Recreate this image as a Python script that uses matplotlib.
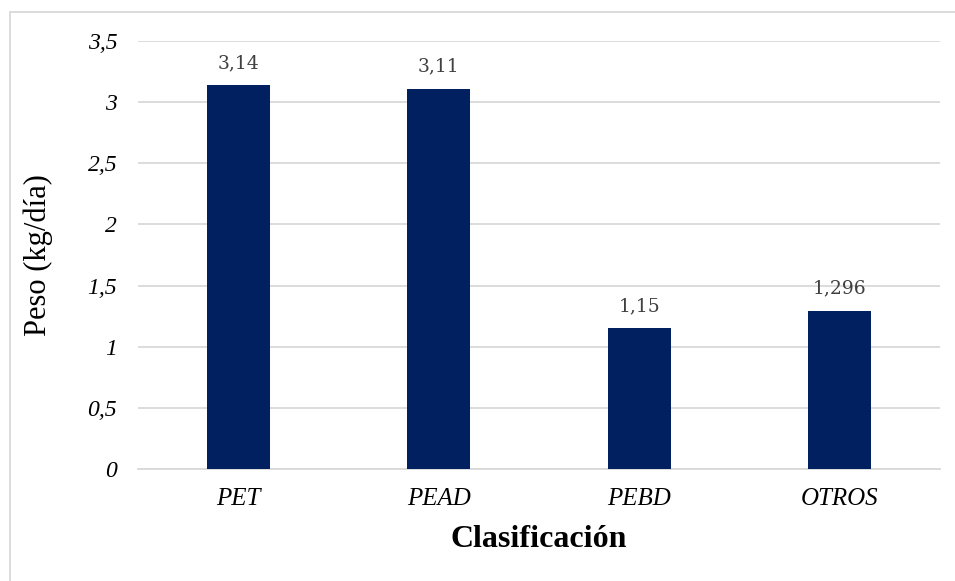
import matplotlib
matplotlib.use('Agg')
import matplotlib.pyplot as plt
from matplotlib.patches import Rectangle

# Weight of each plastic class (kg per day)
categories = ['PET', 'PEAD', 'PEBD', 'OTROS']
peso = [3.14, 3.11, 1.15, 1.296]
value_labels = ['3,14', '3,11', '1,15', '1,296']
yticks = [0, 0.5, 1, 1.5, 2, 2.5, 3, 3.5]
ytick_labels = ['0', '0,5', '1', '1,5', '2', '2,5', '3', '3,5']

W, H = 955, 581
fig = plt.figure(figsize=(W / 100, H / 100), dpi=100)

# thin grey frame round the chart area
fig.patches.append(Rectangle((9.5 / W, -0.1), 1.2, 1.1 - 12.5 / H,
                             transform=fig.transFigure, fill=False,
                             edgecolor='#D9D9D9', linewidth=1.3))

ax = fig.add_axes([138 / W, 1 - 469 / H, (940 - 138) / W, (469 - 41) / H])

x = range(len(categories))
ax.bar(x, peso, width=0.315, color='#002060', zorder=3)

for xi, v, lab in zip(x, peso, value_labels):
    ax.annotate(lab, (xi, v), xytext=(0, 13), textcoords='offset pixels',
                ha='center', va='bottom', fontsize=13.5, color='#404040',
                family='DejaVu Serif')

ax.set_xlim(-0.5, 3.5)
ax.set_ylim(0, 3.5)
ax.set_yticks(yticks)
ax.set_yticklabels(ytick_labels, family='Liberation Serif', style='italic',
                   fontsize=17)
ax.set_xticks(list(x))
ax.set_xticklabels(categories, family='Liberation Serif', style='italic',
                   fontsize=18)
ax.tick_params(axis='both', length=0)
ax.tick_params(axis='y', pad=15)
ax.tick_params(axis='x', pad=14)

ax.grid(axis='y', color='#D9D9D9', linewidth=1.3, zorder=0)
for s in ['top', 'right', 'left']:
    ax.spines[s].set_visible(False)
ax.spines['bottom'].set_color('#D9D9D9')
ax.spines['bottom'].set_linewidth(1.3)

ax.set_xlabel('Clasificación', family='Liberation Serif', fontweight='bold',
              fontsize=23, va='center')
ax.xaxis.set_label_coords(0.5, -0.165)
ax.set_ylabel('Peso (kg/día)', family='Liberation Serif', fontsize=22,
              va='center')
ax.yaxis.set_label_coords(-0.1247, 0.5)

fig.savefig('out.png', dpi=100)
